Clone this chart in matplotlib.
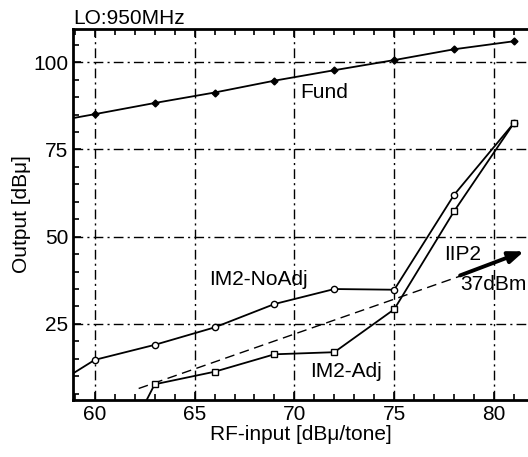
import matplotlib
matplotlib.use("Agg")
import matplotlib.pyplot as plt
from matplotlib.ticker import MultipleLocator

plt.rcParams['font.family'] = ['Liberation Sans', 'DejaVu Sans']

# Data
fund_x = [57, 60, 63, 66, 69, 72, 75, 78, 81]
fund_y = [82.0, 85.1, 88.3, 91.3, 94.7, 97.7, 100.6, 103.7, 106.0]

noadj_x = [57, 60, 63, 66, 69, 72, 75, 78, 81]
noadj_y = [4.0, 14.7, 19.0, 24.0, 30.7, 35.0, 34.8, 62.0, 82.6]

adj_x = [60, 63, 66, 69, 72, 75, 78, 81]
adj_y = [-26.0, 7.7, 11.3, 16.3, 16.9, 29.2, 57.3, 82.6]

ref_x = [62.2, 78.3]
ref_y = [6.5, 38.7]
arrow_start = (78.3, 38.9)
arrow_end = (81.5, 45.8)

xticks = [60, 65, 70, 75, 80]
yticks = [25, 50, 75, 100]

FS = 15

fig = plt.figure(figsize=(5.28, 4.57), dpi=100)
ax = fig.add_axes([0.139, 0.1247, 0.861, 0.8118])

ax.plot(fund_x, fund_y, color='black', lw=1.3, marker='D', ms=3.5,
        mfc='black', mec='black', zorder=3)
ax.plot(noadj_x, noadj_y, color='black', lw=1.3, marker='o', ms=4.5,
        mfc='white', mec='black', zorder=3)
ax.plot(adj_x, adj_y, color='black', lw=1.3, marker='s', ms=4.5,
        mfc='white', mec='black', zorder=3)
ax.plot(ref_x, ref_y, color='black', lw=1.0, ls=(0, (7, 4)), zorder=2)
ax.annotate('', xy=arrow_end, xytext=arrow_start,
            arrowprops=dict(arrowstyle='-|>,head_length=0.9,head_width=0.35',
                            color='black', lw=2.8, shrinkA=0, shrinkB=0))

ax.set_xlim(58.93, 81.7)
ax.set_ylim(3.2, 109.5)
ax.set_xticks(xticks)
ax.set_yticks(yticks)
ax.xaxis.set_minor_locator(MultipleLocator(1))
ax.yaxis.set_minor_locator(MultipleLocator(5))
ax.tick_params(which='both', direction='in', top=True, right=False,
               labelsize=FS, width=1.2)
ax.tick_params(which='major', length=6)
ax.tick_params(which='minor', length=4)
ax.grid(True, which='major', color='black', lw=1.0, ls=(0, (7, 3, 1.5, 3)))
for s in ['left', 'bottom', 'top']:
    ax.spines[s].set_linewidth(2)
ax.spines['right'].set_visible(False)

ax.set_xlabel('RF-input [dBμ/tone]', fontsize=FS, labelpad=1)
ax.set_ylabel('Output [dBμ]', fontsize=FS, labelpad=2)

ax.text(70.3, 91.4, 'Fund', fontsize=FS, va='center', ha='left')
ax.text(65.75, 37.6, 'IM2-NoAdj', fontsize=FS, va='center', ha='left')
ax.text(70.8, 11.3, 'IM2-Adj', fontsize=FS, va='center', ha='left')
ax.text(77.5, 44.8, 'IIP2', fontsize=FS, va='center', ha='left')
ax.text(78.3, 36.2, '37dBm', fontsize=FS, va='center', ha='left')
ax.text(58.93, 109.8, 'LO:950MHz', fontsize=FS, va='bottom', ha='left')

fig.savefig('out.png', dpi=100)
